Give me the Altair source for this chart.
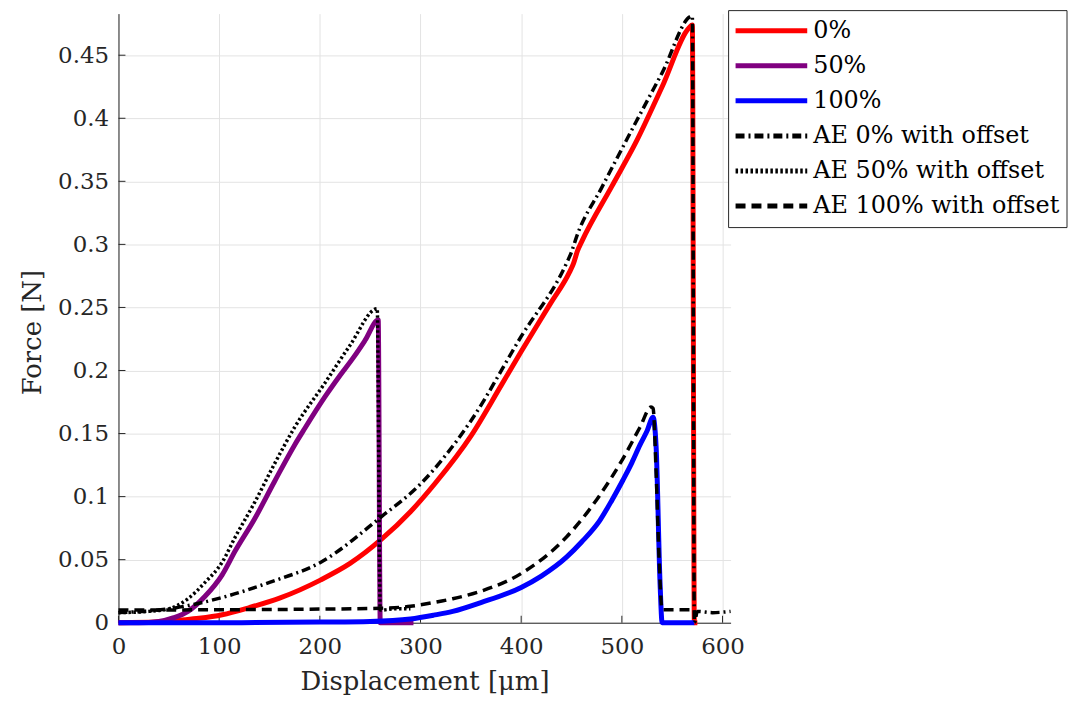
import altair as alt
import pandas as pd

# ---------------- data ----------------
x_red = [0, 40, 60, 80, 103, 130, 160, 201, 230, 261, 290, 315, 350, 380, 400, 429, 448, 452, 456, 460, 490, 514, 540, 567, 570, 572, 575]
f_red = [0, 0.0005, 0.002, 0.0035, 0.0063, 0.012, 0.0195, 0.034, 0.047, 0.066, 0.088, 0.111, 0.148, 0.188, 0.215, 0.253, 0.278, 0.285, 0.295, 0.302, 0.346, 0.381, 0.425, 0.472, 0.474, 0.0, 0.0]

x_purple = [0, 20, 40, 55, 69, 86, 103, 116, 135, 155, 175, 185, 205, 220, 234, 245, 258, 260, 293]
f_purple = [0, 0, 0.001, 0.004, 0.009, 0.021, 0.038, 0.057, 0.082, 0.112, 0.141, 0.154, 0.179, 0.196, 0.211, 0.224, 0.240, 0.0, 0.0]

x_blue = [0, 110, 200, 250, 290, 313, 332, 360, 400, 420, 445, 460, 478, 490, 501, 510, 518, 525, 531, 534, 538, 540, 572]
f_blue = [0, 0, 0.0005, 0.001, 0.003, 0.006, 0.009, 0.016, 0.028, 0.037, 0.052, 0.064, 0.081, 0.097, 0.113, 0.127, 0.141, 0.152, 0.163, 0.14, 0.03, 0.0, 0.0]

x_ae0 = [0, 50, 103, 150, 201, 261, 300, 350, 400, 445, 450, 455, 480, 514, 540, 570, 572, 575, 590, 608]
f_ae0 = [0.008, 0.011, 0.020, 0.032, 0.048, 0.084, 0.110, 0.160, 0.227, 0.285, 0.294, 0.306, 0.345, 0.397, 0.436, 0.481, 0.0, 0.009, 0.008, 0.009]

x_ae50 = [0, 30, 50, 69, 86, 103, 116, 135, 155, 175, 205, 230, 257, 260, 275, 290]
f_ae50 = [0.008, 0.009, 0.011, 0.019, 0.032, 0.048, 0.068, 0.095, 0.126, 0.155, 0.190, 0.220, 0.249, 0.010, 0.011, 0.011]

x_ae100 = [0, 100, 200, 260, 290, 313, 332, 360, 400, 445, 478, 501, 518, 529, 531, 534, 537, 540, 573]
f_ae100 = [0.010, 0.0103, 0.0108, 0.0115, 0.013, 0.016, 0.019, 0.025, 0.039, 0.068, 0.101, 0.130, 0.155, 0.171, 0.17, 0.12, 0.05, 0.0103, 0.0103]

series_names = ["0%", "50%", "100%", "AE 0% with offset", "AE 50% with offset", "AE 100% with offset"]
series_x = [x_red, x_purple, x_blue, x_ae0, x_ae50, x_ae100]
series_f = [f_red, f_purple, f_blue, f_ae0, f_ae50, f_ae100]

x_ticks = [0, 100, 200, 300, 400, 500, 600]
y_ticks = [0, 0.05, 0.1, 0.15, 0.2, 0.25, 0.3, 0.35, 0.4, 0.45]

# ---------------- styles ----------------
colors = ["#ff0000", "#800080", "#0000ff", "#000000", "#000000", "#000000"]
dashes = [[1, 0], [1, 0], [1, 0], [9, 4, 2, 4], [2.5, 2.5], [10, 6]]
widths = [5, 5, 5, 3.5, 3.5, 3.5]

FONT = "DejaVu Serif"
AX = "#262626"
W, H = 615, 612

xscale = alt.Scale(domain=[0, 608], nice=False, zero=False)
yscale = alt.Scale(domain=[0, 0.483], nice=False, zero=False)

x_axis = alt.Axis(values=x_ticks, grid=True, gridColor="#e3e3e3", gridWidth=1,
                  domainColor=AX, domainWidth=1, ticks=False, tickSize=0,
                  labelFont=FONT, labelFontSize=23, labelColor=AX, labelPadding=13,
                  labelFlush=False, title="Displacement [μm]", titleFont=FONT,
                  titleFontSize=26, titleFontWeight="normal", titleColor=AX, titlePadding=10)
y_axis = alt.Axis(values=y_ticks, grid=True, gridColor="#e3e3e3", gridWidth=1,
                  domainColor=AX, domainWidth=1, ticks=False, tickSize=0, format=".2~f",
                  labelFont=FONT, labelFontSize=23, labelColor=AX, labelPadding=10,
                  labelFlush=False, title="Force [N]", titleFont=FONT, titleY=320,
                  titleFontSize=26, titleFontWeight="normal", titleColor=AX, titlePadding=12)

# inward tick marks drawn from the tick lists
xt = alt.Chart(pd.DataFrame({"x": x_ticks})).mark_rule(color=AX, strokeWidth=1).encode(
    x=alt.X("x:Q", scale=xscale, axis=x_axis),
    y=alt.value(H), y2=alt.value(H - 7),
)
yt = alt.Chart(pd.DataFrame({"f": y_ticks})).mark_rule(color=AX, strokeWidth=1).encode(
    y=alt.Y("f:Q", scale=yscale, axis=y_axis),
    x=alt.value(0), x2=alt.value(7),
)

line_layers = []
for name, xs, fs, c, d, w in zip(series_names, series_x, series_f, colors, dashes, widths):
    df = pd.DataFrame({"x": xs, "f": fs, "i": list(range(len(xs)))})
    kw = dict(color=c, strokeWidth=w, strokeCap="butt", strokeJoin="round", interpolate="monotone")
    if d != [1, 0]:
        kw["strokeDash"] = d
    line_layers.append(
        alt.Chart(df).mark_line(**kw).encode(
            x=alt.X("x:Q", scale=xscale, axis=x_axis),
            y=alt.Y("f:Q", scale=yscale, axis=y_axis),
            order="i:Q",
        )
    )

plot = alt.layer(xt, yt, *line_layers)

# ---------------- legend ----------------
leg_df = pd.DataFrame({"series": series_names})
ly = alt.Y("series:N", scale=alt.Scale(domain=series_names, range=[-0.5, 211]), axis=None)
box = alt.Chart(pd.DataFrame({"a": [0]})).mark_rect(fill="white", stroke=AX, strokeWidth=1).encode(
    x=alt.value(613), x2=alt.value(953), y=alt.value(-3), y2=alt.value(215)
)
swatch = alt.Chart(leg_df).mark_rule(strokeCap="butt").encode(
    x=alt.value(620), x2=alt.value(692), y=ly,
    color=alt.Color("series:N", scale=alt.Scale(domain=series_names, range=colors), legend=None),
    strokeDash=alt.StrokeDash("series:N", scale=alt.Scale(domain=series_names, range=dashes), legend=None),
    strokeWidth=alt.StrokeWidth("series:N", scale=alt.Scale(domain=series_names, range=widths), legend=None),
)
labels = alt.Chart(leg_df).mark_text(align="left", baseline="middle", font=FONT, fontSize=24, color="#000000").encode(
    x=alt.value(698), y=ly, text="series:N"
)
legend = alt.layer(box, swatch, labels)

chart = alt.layer(plot, legend).resolve_scale(y="independent").properties(
    width=W, height=H, padding={"left": 11, "top": 0, "right": 0, "bottom": 0},
    background="white",
).configure_view(stroke=None)

chart.save("out.html", embed_options={"renderer": "svg", "actions": False})
